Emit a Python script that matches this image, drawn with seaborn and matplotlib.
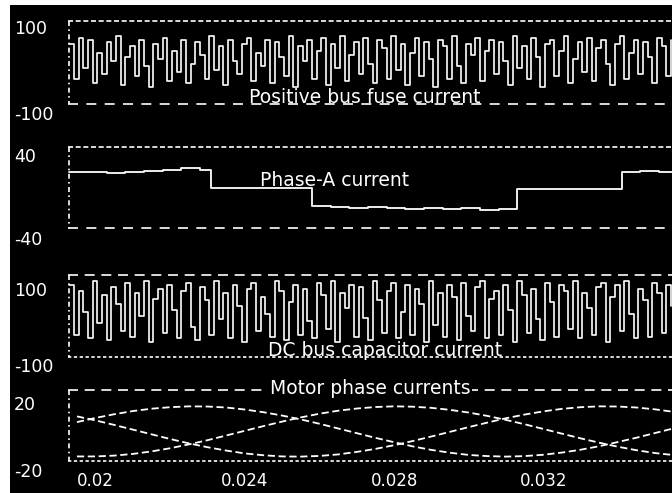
import numpy as np
import pandas as pd
import matplotlib
matplotlib.use("Agg")
import matplotlib.pyplot as plt
from matplotlib.patches import Rectangle
import seaborn as sns

# ------------------------------------------------------------------ data
spike_t0 = 0.0193
spike_dt = 0.000125
fuse_current = [60, -20, 75, 5, 70, -30, 40, -10, 65, 20, 80, -35, 30, 55, -15, 70, 10, -40,
                60, 25, 75, -25, 45, -5, 70, -30, 15, 65, 35, -20, 80, 0, 55, -35, 70, 20,
                -10, 60, 75, -25, 40, 10, 70, -30, 65, 30, -15, 80, -40, 55, 20, 70, -20, 45,
                75, -35, 60, 5, 80, -25, 35, 65, -10, 75, 15, -30, 70, 50, -20, 80, 0, 60,
                -35, 40, 75, -15, 65, 25, -40, 70, 55, -20, 80, 10, -30, 60, 35, 75, -25, 45,
                70, -10, 65, 20, -35, 80, 5, 55, -20, 75, 30, -40, 60, 70, -15, 45, 80, -30,
                25, 65, -5, 75, -25, 50, 70, 15, -35, 60, 80, -20, 40, 70, -10, 65, 30, -30,
                75, 55, -15, 70]
cap_current = [110, -20, 95, 40, -30, 120, 10, 85, -35, 105, 60, -10, 115, -25, 90, 30, 120, -40,
               75, 100, -15, 110, 45, -30, 95, 115, 0, -35, 105, 70, -20, 120, 20, 90, -30, 110,
               55, -40, 100, 115, -10, 80, 35, -25, 120, 95, -35, 65, 110, -20, 100, 15, -30, 115,
               85, -5, 120, -40, 90, 50, 110, -25, 105, 25, -35, 120, 70, -15, 95, 115, -30, 40,
               110, -20, 100, 60, -40, 120, 5, 90, -25, 110, 80, -35, 115, 30, -10, 105, 120, -30,
               75, 95, -20, 110, 45, -40, 120, 85, -15, 100, 20, -35, 115, 65, -25, 110, 95, -5,
               120, -30, 90, 50, -20, 105, 115, -40, 80, 110, -10, 120, 35, -30, 100, 70, -25, 115,
               90, -15, 110, 55]

phase_a_t = [0.0193, 0.0198, 0.0203, 0.0208, 0.0213, 0.0218, 0.0223, 0.0228, 0.0231, 0.0236,
             0.0241, 0.0246, 0.0251, 0.0258, 0.0263, 0.0268, 0.0273, 0.0278, 0.0283, 0.0288,
             0.0293, 0.0298, 0.0303, 0.0308, 0.0313, 0.0318, 0.0323, 0.0328, 0.0333, 0.0338,
             0.0341, 0.0346, 0.0351, 0.0355]
phase_a_current = [24, 24, 23, 24, 25, 26, 27, 26, 8, 8, 8, 8, 8, -9, -10, -11, -10, -11, -12,
                   -11, -12, -11, -13, -12, 7, 7, 7, 7, 7, 7, 24, 25, 24, 25]

motor_t0 = 0.0195
motor_dt = 0.0005
motor_ia = [8.6, 11.1, 13.3, 15.2, 16.6, 17.5, 18.0, 17.9, 17.3, 16.1, 14.5, 12.5, 10.2, 7.6,
            4.8, 2.0, -0.8, -3.4, -5.9, -8.0, -9.7, -11.0, -11.7, -12.0, -11.7, -10.9, -9.6,
            -7.9, -5.8, -3.3, -0.7, 2.1, 4.9]
motor_ib = [-11.9, -11.9, -11.4, -10.4, -8.9, -7.0, -4.7, -2.2, 0.6, 3.4, 6.2, 8.9, 11.4, 13.6,
            15.4, 16.7, 17.6, 18.0, 17.8, 17.1, 15.9, 14.3, 12.3, 9.9, 7.3, 4.5, 1.7, -1.1,
            -3.7, -6.1, -8.2, -9.9, -11.1]
motor_ic = [12.0, 9.6, 6.9, 4.1, 1.3, -1.5, -4.1, -6.4, -8.4, -10.1, -11.2, -11.9, -12.0,
            -11.6, -10.7, -9.2, -7.4, -5.2, -2.7, 0.0, 2.8, 5.6, 8.3, 10.9, 13.1, 15.0, 16.5,
            17.5, 18.0, 17.9, 17.3, 16.2, 14.7]

panel_titles = ["Positive bus fuse current", "Phase-A current",
                "DC bus capacitor current", "Motor phase currents"]
y_tick_values = [(100, -100), (40, -40), (100, -100), (20, -20)]
x_ticks = [0.02, 0.024, 0.028, 0.032]
x_tick_labels = ["0.02", "0.024", "0.028", "0.032"]

# ------------------------------------------------------------------ layout (pixels)
W, H, DPI = 672, 493, 100
X_LEFT = 68
XLIM = (0.01926, 0.03545)
# (label hi y, label lo y, frame top, frame bottom, axes top, axes bottom)
layout = [
    (27, 113, 21, 104, 15, 121),
    (155, 238, 147, 228, 141, 246),
    (289, 365, 275, 357, 270, 373),
    (403, 470, 390, 461, 385, 472),
]
frame_styles = [
    ((0, (3, 1.6)), (0, (6, 5))),
    ((0, (3, 1.6)), (0, (6, 5))),
    ((0, (6, 4)), (0, (2, 1.5))),
    ((0, (6, 4)), (0, (2, 1.5))),
]
title_pos = [(365, 97), (335, 180), (385, 350), (370, 389)]

sns.set_style("dark")
plt.rcParams["font.family"] = ["DejaVu Sans"]

fig = plt.figure(figsize=(W / DPI, H / DPI), dpi=DPI, facecolor="white")
fig.add_artist(Rectangle((10 / W, 0), 1 - 10 / W, 1 - 5 / H, transform=fig.transFigure,
                         facecolor="black", edgecolor="none", zorder=0))

spike_t = spike_t0 + spike_dt * np.arange(len(fuse_current))
cap_t = spike_t0 + spike_dt * np.arange(len(cap_current))
motor_t = motor_t0 + motor_dt * np.arange(len(motor_ia))

axes = []
for i, (yh, yl, ft, fb, at, ab) in enumerate(layout):
    ax = fig.add_axes([X_LEFT / W, 1 - ab / H, 1 - X_LEFT / W, (ab - at) / H])
    ax.set_facecolor("none")
    hi, lo = y_tick_values[i]

    def val(y, yh=yh, yl=yl, hi=hi, lo=lo):
        return hi - (y - yh) * (hi - lo) / (yl - yh)

    ax.set_xlim(*XLIM)
    ax.set_ylim(val(ab), val(at))
    for s in ax.spines.values():
        s.set_visible(False)
    ax.grid(False)
    # frame
    top_ls, bot_ls = frame_styles[i]
    ax.plot(XLIM, [val(ft)] * 2, color="white", lw=1.2, ls=top_ls, clip_on=False)
    ax.plot(XLIM, [val(fb)] * 2, color="white", lw=1.2, ls=bot_ls, clip_on=False)
    ax.plot([XLIM[0] + 0.00002] * 2, [val(ft), val(fb)], color="white", lw=1.2,
            ls=(0, (3, 2, 1, 2)), clip_on=False)
    # ticks
    ax.set_yticks([hi, lo])
    ax.set_yticklabels([str(hi), str(lo)])
    ax.tick_params(axis="y", length=0, pad=(X_LEFT - 14) * 0.72, labelsize=12.5,
                   labelcolor="white")
    for lab in ax.get_yticklabels():
        lab.set_horizontalalignment("left")
    if i == 3:
        ax.set_xticks(x_ticks)
        ax.set_xticklabels(x_tick_labels)
        ax.tick_params(axis="x", length=0, pad=0, labelsize=12, labelcolor="white")
    else:
        ax.set_xticks([])
    ax.set_xlabel("")
    ax.set_ylabel("")
    axes.append(ax)

# signals
sns.lineplot(x=spike_t, y=fuse_current, ax=axes[0], color="white", lw=1.2,
             drawstyle="steps-post", estimator=None)
sns.lineplot(x=phase_a_t, y=phase_a_current, ax=axes[1], color="white", lw=1.3,
             drawstyle="steps-post", estimator=None)
sns.lineplot(x=cap_t, y=cap_current, ax=axes[2], color="white", lw=1.2,
             drawstyle="steps-post", estimator=None)
motor_df = pd.DataFrame({
    "t": np.concatenate([motor_t] * 3),
    "i": motor_ia + motor_ib + motor_ic,
    "phase": ["a"] * len(motor_ia) + ["b"] * len(motor_ib) + ["c"] * len(motor_ic),
})
sns.lineplot(data=motor_df, x="t", y="i", hue="phase", ax=axes[3],
             palette=["white"] * 3, lw=1.3, legend=False, estimator=None)
for ln in axes[3].get_lines()[-3:]:
    ln.set_linestyle((0, (4, 2)))
for ax in axes:
    ax.set_xlabel("")
    ax.set_ylabel("")

# titles
for i, (txt, (px, py)) in enumerate(zip(panel_titles, title_pos)):
    kw = {}
    if i == 3:
        kw["bbox"] = dict(facecolor="black", edgecolor="none", pad=1)
    fig.text(px / W, 1 - py / H, txt, color="white", fontsize=13.5,
             ha="center", va="center", zorder=10, **kw)

fig.savefig("out.png", dpi=DPI, facecolor=fig.get_facecolor())
